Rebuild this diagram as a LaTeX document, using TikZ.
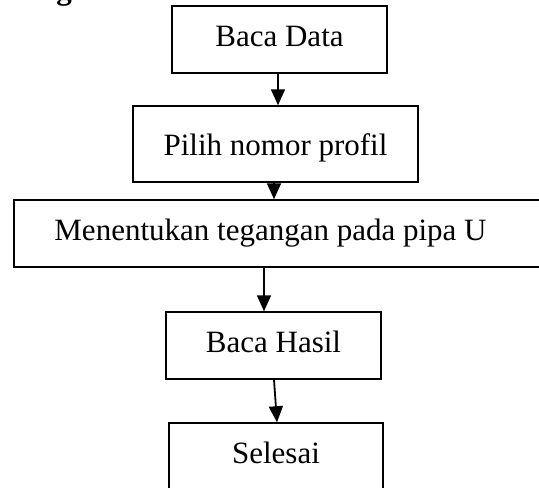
\documentclass[tikz,border=0pt]{standalone}
\usepackage{fontspec}
\setmainfont{Liberation Serif}
\usetikzlibrary{arrows.meta}
\begin{document}
\begin{tikzpicture}[x=1pt,y=-1pt,
  txt/.style={font=\fontsize{31}{37}\selectfont},
  box/.style={draw, line width=1.5pt, inner sep=0pt, txt, text height=22pt, text depth=8pt},
  arr/.style={line width=1.8pt, -{Triangle[length=16pt,width=14pt]}}]
\useasboundingbox (0,0) rectangle (539,488);
\clip (0,0) rectangle (539,488);
\node[font=\bfseries\fontsize{31}{37}\selectfont, anchor=base, inner sep=0pt] (g) at (64,-1) {g};
\node[box, minimum width=215pt, minimum height=67pt] (b1) at (279.5,39.5) {Baca Data};
\node[box, minimum width=285pt, minimum height=76pt, text depth=0pt] (b2) at (275.5,144) {Pilih nomor profil};
\node[box, minimum width=546pt, minimum height=67pt] (b3) at (287,233.5) {};
\node[txt, inner sep=0pt, text height=22pt, text depth=8pt] (t3) at (270.5,233.5) {Menentukan tegangan pada pipa U};
\node[box, minimum width=215pt, minimum height=67pt] (b4) at (273.5,345.5) {Baca Hasil};
\node[box, minimum width=214pt, minimum height=67pt, text depth=9pt] (b5) at (276,456.5) {Selesai};
\draw[arr] ([xshift=-1.5pt]b1.south) -- ([xshift=-1.5pt]b1.south |- b2.north);
\draw[arr] ([xshift=-1.5pt]b2.south) -- ([xshift=-1.5pt]b2.south |- b3.north);
\draw[arr] ([xshift=-23pt]b3.south) -- ([xshift=-23pt]b3.south |- b4.north);
\draw[arr] ([xshift=0.5pt]b4.south) -- ([xshift=1pt]b5.north);
\end{tikzpicture}
\end{document}
